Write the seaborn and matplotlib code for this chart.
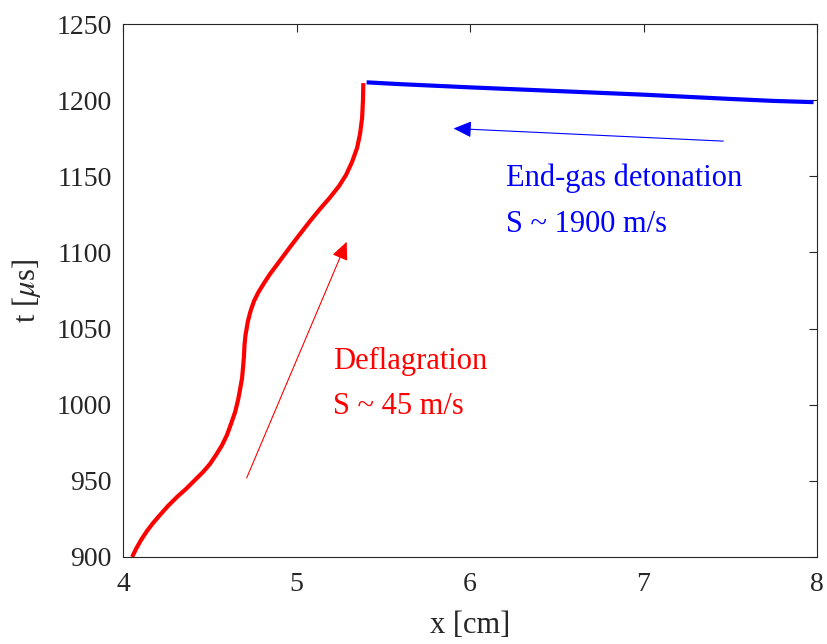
import matplotlib
matplotlib.use("Agg")
import matplotlib.pyplot as plt
import seaborn as sns
import pandas as pd

# Flame front trajectory (deflagration), x in cm, t in microseconds
defl_x = [4.052, 4.075, 4.104, 4.138, 4.173, 4.213, 4.259, 4.311, 4.363, 4.415,
          4.461, 4.501, 4.536, 4.571, 4.599, 4.622, 4.646, 4.663, 4.674, 4.686,
          4.692, 4.697, 4.700, 4.706, 4.720, 4.735, 4.755, 4.781, 4.813, 4.847,
          4.905, 4.963, 5.020, 5.078, 5.135, 5.193, 5.245, 5.285, 5.320, 5.349,
          5.366, 5.378, 5.383, 5.385]
defl_t = [900.0, 905.3, 911.2, 917.1, 922.3, 927.6, 933.5, 939.4, 944.7, 950.6,
          955.8, 961.1, 967.0, 973.5, 980.1, 987.3, 995.2, 1003.1, 1009.7, 1017.5,
          1024.8, 1032.0, 1039.2, 1045.8, 1055.0, 1061.5, 1068.1, 1074.0, 1079.9, 1085.8,
          1094.7, 1103.6, 1112.1, 1120.6, 1128.5, 1136.1, 1143.6, 1150.8, 1159.4, 1168.6,
          1177.8, 1188.3, 1200.1, 1211.2]

# End-gas detonation front
det_x = [5.404, 5.6, 6.0, 6.5, 7.0, 7.5, 7.75, 7.98]
det_t = [1211.7, 1210.5, 1208.4, 1206.0, 1203.6, 1200.8, 1199.5, 1198.7]

x_ticks = [4, 5, 6, 7, 8]
t_ticks = [900, 950, 1000, 1050, 1100, 1150, 1200, 1250]

sns.set_style("white")
plt.rcParams["font.family"] = ["Liberation Serif", "DejaVu Serif"]
plt.rcParams["mathtext.fontset"] = "stix"

fig = plt.figure(figsize=(8.28, 6.44), dpi=100)
ax = fig.add_axes([0.1486, 0.1351, 0.8381, 0.8276])

defl = pd.DataFrame({"x": defl_x, "t": defl_t})
det = pd.DataFrame({"x": det_x, "t": det_t})
sns.lineplot(data=defl, x="x", y="t", sort=False, color="#ff0000", lw=3.0, ax=ax,
             solid_capstyle="butt", solid_joinstyle="round")
sns.lineplot(data=det, x="x", y="t", sort=False, color="#0000ff", lw=3.0, ax=ax,
             solid_capstyle="butt", solid_joinstyle="round")

# Direction arrows
arrow_style = "-|>,head_length=1.1,head_width=0.5"
ax.annotate("", xy=(5.289, 1107.0), xytext=(4.713, 952.0),
            arrowprops=dict(arrowstyle=arrow_style, color="#ff0000", lw=0.8,
                            shrinkA=0, shrinkB=0))
ax.annotate("", xy=(5.905, 1181.4), xytext=(7.46, 1173.1),
            arrowprops=dict(arrowstyle=arrow_style, color="#0000ff", lw=0.8,
                            shrinkA=0, shrinkB=0))

ax.text(5.21, 1023.4, "Deflagration", color="#ff0000", fontsize=22, va="baseline")
ax.text(5.21, 993.9, "S ~ 45 m/s", color="#ff0000", fontsize=22, va="baseline")
ax.text(6.207, 1143.6, "End-gas detonation", color="#0000ff", fontsize=22, va="baseline")
ax.text(6.207, 1113.6, "S ~ 1900 m/s", color="#0000ff", fontsize=22, va="baseline")

ax.set_xlim(4, 8)
ax.set_ylim(900, 1250)
ax.set_xticks(x_ticks)
ax.set_yticks(t_ticks)
ax.set_xlabel("x [cm]", fontsize=22, color="#262626", labelpad=10)
ax.set_ylabel(r"t [$\mu$s]", fontsize=22, color="#262626", labelpad=10)

for s in ax.spines.values():
    s.set_visible(True)
    s.set_color("#262626")
    s.set_linewidth(0.8)
ax.tick_params(direction="in", length=6, width=0.8, colors="#262626",
               labelsize=20, top=True, right=True, labelcolor="#262626")
ax.tick_params(axis="x", pad=11)
ax.tick_params(axis="y", pad=8)

fig.savefig("out.png", dpi=100)
